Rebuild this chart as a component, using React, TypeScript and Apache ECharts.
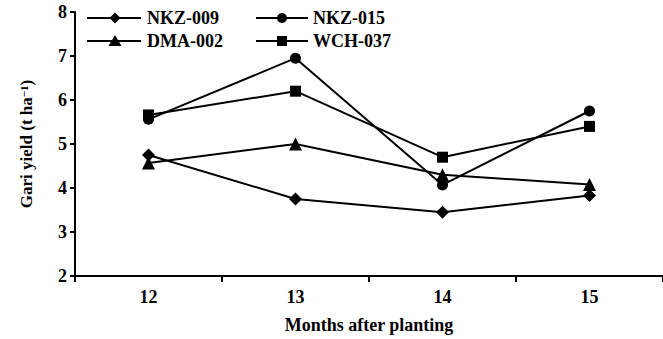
import React, { useEffect, useRef } from "react";
import * as echarts from "echarts";

const months = ["12", "13", "14", "15"];
const seriesNames = ["NKZ-009", "NKZ-015", "DMA-002", "WCH-037"];
const nkz009 = [4.75, 3.75, 3.45, 3.83];
const nkz015 = [5.56, 6.95, 4.07, 5.75];
const dma002 = [4.57, 5.0, 4.3, 4.08];
const wch037 = [5.66, 6.2, 4.7, 5.4];
const yMin = 2;
const yMax = 8;
const yStep = 1;

const FONT = "Liberation Serif";

function legendItem(name: string, symbol: string, x1: number, x2: number, sx: number, tx: number, y: number) {
  const els: any[] = [
    { type: "line", shape: { x1, y1: y, x2, y2: y }, style: { stroke: "#000", lineWidth: 2 } },
  ];
  const s = 5.5;
  if (symbol === "diamond") {
    els.push({ type: "polygon", shape: { points: [[sx, y - s], [sx + s, y], [sx, y + s], [sx - s, y]] }, style: { fill: "#000" } });
  } else if (symbol === "circle") {
    els.push({ type: "circle", shape: { cx: sx, cy: y, r: 5 }, style: { fill: "#000" } });
  } else if (symbol === "triangle") {
    els.push({ type: "polygon", shape: { points: [[sx, y - 6], [sx + 6.5, y + 5], [sx - 6.5, y + 5]] }, style: { fill: "#000" } });
  } else {
    els.push({ type: "rect", shape: { x: sx - 5, y: y - 5, width: 10, height: 10 }, style: { fill: "#000" } });
  }
  els.push({
    type: "text",
    style: { text: name, x: tx, y, fill: "#000", font: `bold 18px "${FONT}"`, verticalAlign: "middle", align: "left" },
  });
  return els;
}

export default function App() {
  const ref = useRef<HTMLDivElement>(null);
  useEffect(() => {
    if (!ref.current) return;
    const chart = echarts.init(ref.current, undefined, { renderer: "svg" });
    const mk = (name: string, data: number[], symbol: string, size: number) => ({
      name,
      type: "line",
      data,
      symbol,
      symbolSize: size,
      showSymbol: true,
      color: "#000",
      lineStyle: { color: "#000", width: 2 },
      itemStyle: { color: "#000" },
    });
    const legendEls = [
      ...legendItem(seriesNames[0], "diamond", 87, 141, 115, 147, 18),
      ...legendItem(seriesNames[1], "circle", 256, 308, 282, 313, 18),
      ...legendItem(seriesNames[2], "triangle", 87, 141, 115, 147, 41),
      ...legendItem(seriesNames[3], "rect", 256, 308, 282, 313, 41),
    ];
    chart.setOption({
      animation: false,
      backgroundColor: "#fff",
      grid: { left: 75, top: 12, width: 592, height: 264 },
      graphic: legendEls,
      xAxis: {
        type: "category",
        data: months,
        boundaryGap: true,
        axisLine: { lineStyle: { color: "#000", width: 2 } },
        axisTick: { show: true, length: 6, lineStyle: { color: "#000", width: 2 } },
        axisLabel: { color: "#000", fontFamily: FONT, fontWeight: "bold", fontSize: 18, margin: 12 },
        name: "Months after planting",
        nameLocation: "middle",
        nameGap: 40,
        nameTextStyle: { color: "#000", fontFamily: FONT, fontWeight: "bold", fontSize: 18 },
        splitLine: { show: false },
      },
      yAxis: {
        type: "value",
        min: yMin,
        max: yMax,
        interval: yStep,
        axisLine: { show: true, lineStyle: { color: "#000", width: 2 } },
        axisTick: { show: true, length: 5, lineStyle: { color: "#000", width: 2 } },
        axisLabel: { color: "#000", fontFamily: FONT, fontWeight: "bold", fontSize: 18, margin: 8 },
        splitLine: { show: false },
        name: "Gari yield (t ha{s|\u22121})",
        nameLocation: "middle",
        nameGap: 40,
        nameTextStyle: {
          color: "#000",
          fontFamily: FONT,
          fontWeight: "bold",
          fontSize: 17,
          rich: {
            s: { fontFamily: FONT, fontWeight: "bold", fontSize: 11, verticalAlign: "top", lineHeight: 10, color: "#000" },
          },
        },
      },
      series: [
        mk(seriesNames[0], nkz009, "diamond", 13),
        mk(seriesNames[1], nkz015, "circle", 11),
        mk(seriesNames[2], dma002, "triangle", 13),
        mk(seriesNames[3], wch037, "rect", 11),
      ],
    });
    return () => chart.dispose();
  }, []);
  return (
    <div
      ref={ref}
      style={{ position: "fixed", left: 0, top: 0, width: 663, height: 339, background: "#fff" }}
    />
  );
}
